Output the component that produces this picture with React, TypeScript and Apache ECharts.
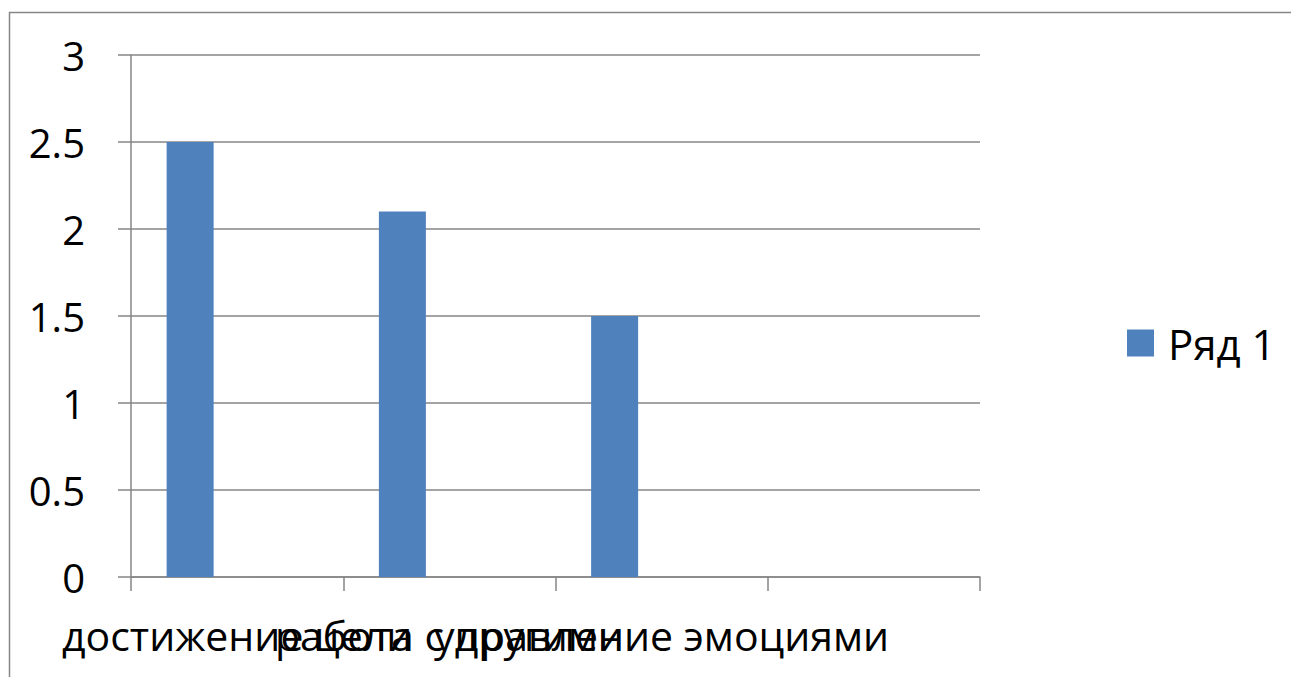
import React, { useEffect, useRef } from "react";
import * as echarts from "echarts";

const categories = ["достижение цели", "работа с другими", "управление эмоциями", ""];
const series1Values = [2.5, 2.1, 1.5, null];
const series2Values = [null, null, null, null];
const series3Values = [null, null, null, null];
const yTicks = { min: 0, max: 3, interval: 0.5 };

const FONT = "'Open Sans', 'Noto Sans', sans-serif";
const GRAY = "#868686";

export default function App() {
  const ref = useRef<HTMLDivElement>(null);
  useEffect(() => {
    if (!ref.current) return;
    const chart = echarts.init(ref.current, null, { renderer: "svg" });
    chart.setOption({
      animation: false,
      backgroundColor: "#ffffff",
      textStyle: { fontFamily: FONT },
      graphic: [
        {
          type: "rect",
          shape: { x: 9.5, y: 12.5, width: 1400, height: 800 },
          style: { fill: "none", stroke: GRAY, lineWidth: 1.5 },
          silent: true,
        },
      ],
      grid: { left: 131, right: 311, top: 55, bottom: 100 },
      legend: {
        data: ["Ряд 1"],
        left: 1127,
        top: 322,
        padding: 0,
        itemWidth: 27,
        itemHeight: 27,
        itemGap: 10,
        icon: "rect",
        textStyle: { fontSize: 42, color: "#000", fontFamily: FONT, padding: [0, 0, 0, 9] },
      },
      xAxis: {
        type: "category",
        data: categories,
        boundaryGap: true,
        axisLine: { lineStyle: { color: GRAY, width: 1.5 } },
        axisTick: { show: true, length: 14, alignWithLabel: false, lineStyle: { color: GRAY, width: 1.5 } },
        axisLabel: { interval: 0, fontSize: 41, color: "#000", margin: 37, fontFamily: FONT },
      },
      yAxis: {
        type: "value",
        min: yTicks.min,
        max: yTicks.max,
        interval: yTicks.interval,
        axisLine: { show: true, lineStyle: { color: GRAY, width: 1.5 } },
        axisTick: { show: true, length: 13, inside: false, lineStyle: { color: GRAY, width: 1.5 } },
        splitLine: { show: true, lineStyle: { color: GRAY, width: 1.5 } },
        axisLabel: { fontSize: 40, color: "#000", margin: 46, fontFamily: FONT },
      },
      series: [
        {
          name: "Ряд 1",
          type: "bar",
          data: series1Values,
          barWidth: 47,
          barGap: "0%",
          itemStyle: { color: "#4F81BD" },
        },
        {
          name: "Ряд 2",
          type: "bar",
          data: series2Values,
          barWidth: 47,
          barGap: "0%",
          itemStyle: { color: "#C0504D" },
        },
        {
          name: "Ряд 3",
          type: "bar",
          data: series3Values,
          barWidth: 47,
          barGap: "0%",
          itemStyle: { color: "#9BBB59" },
        },
      ],
    });
    return () => chart.dispose();
  }, []);
  return (
    <div
      ref={ref}
      style={{ position: "absolute", left: 0, top: 0, width: 1291, height: 677, overflow: "hidden" }}
    />
  );
}
